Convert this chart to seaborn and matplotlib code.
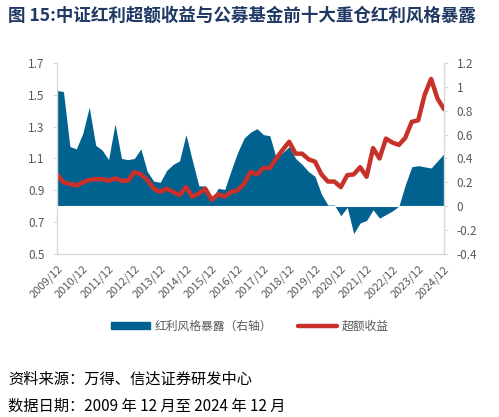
import matplotlib.pyplot as plt
import matplotlib.ticker as mticker
import matplotlib.lines as mlines
import matplotlib.patches as mpatches
import numpy as np
import pandas as pd
import seaborn as sns

# quarterly, 2009/12 .. 2024/12
quarters = [f'{y}/{m:02d}' for y in range(2009, 2025) for m in (3, 6, 9, 12)][3:]

excess_return = [
    1.00, 0.95, 0.94, 0.93, 0.95, 0.965, 0.97, 0.97, 0.96, 0.975, 0.96, 0.96, 1.015,
    1.00, 0.965, 0.91, 0.89, 0.91, 0.89, 0.87, 0.92, 0.86, 0.88, 0.91, 0.84,
    0.875, 0.86, 0.89, 0.90, 0.94, 1.015, 1.00, 1.04, 1.04, 1.10, 1.155, 1.205,
    1.13, 1.13, 1.095, 1.08, 1.00, 0.955, 0.955, 0.92, 0.995, 1.00, 1.045, 0.985,
    1.165, 1.10, 1.225, 1.20, 1.185, 1.23, 1.33, 1.34, 1.50, 1.60, 1.475, 1.41,
]

dividend_exposure = [
    0.97, 0.96, 0.50, 0.48, 0.61, 0.83, 0.51, 0.47, 0.39, 0.69, 0.40, 0.39, 0.40,
    0.48, 0.29, 0.21, 0.20, 0.30, 0.35, 0.38, 0.60, 0.38, 0.17, 0.17, 0.06,
    0.15, 0.14, 0.30, 0.45, 0.57, 0.62, 0.65, 0.60, 0.59, 0.40, 0.45, 0.50,
    0.40, 0.35, 0.29, 0.25, 0.10, 0.01, 0.01, -0.08, -0.01, -0.23, -0.14, -0.12,
    -0.03, -0.10, -0.07, -0.04, 0.00, 0.18, 0.33, 0.34, 0.33, 0.32, 0.38, 0.44,
]

left_ticks = [0.5, 0.7, 0.9, 1.1, 1.3, 1.5, 1.7]
right_ticks = [-0.4, -0.2, 0, 0.2, 0.4, 0.6, 0.8, 1.0, 1.2]

df = pd.DataFrame({'quarter': quarters, 'excess': excess_return,
                   'exposure': dividend_exposure})
df['x'] = np.arange(len(df))

sns.set_theme(style='white')
plt.rcParams['font.family'] = ['Noto Sans CJK SC', 'DejaVu Sans']
plt.rcParams['axes.unicode_minus'] = False

BLUE = '#01628f'
RED = '#c8312a'
GREY = '#595959'
SPINE = '#d9d9d9'

fig = plt.figure(figsize=(4.99, 4.17), dpi=100)
ax = fig.add_axes([0.1142, 0.391, 0.7756, 0.458])
ax2 = ax.twinx()

# area on the right axis
ax2.fill_between(df['x'], 0, df['exposure'], color=BLUE, lw=0)
ax2.axhline(0, color='white', lw=0.8)
ax2.set_ylim(-0.4, 1.2)
ax2.set_yticks(right_ticks)

# line on the left axis, drawn above the area
sns.lineplot(data=df, x='x', y='excess', ax=ax, color=RED, lw=3.2,
             solid_joinstyle='round', solid_capstyle='round')
ax.set_zorder(ax2.get_zorder() + 1)
ax.patch.set_visible(False)
ax.set_ylim(0.5, 1.7)
ax.set_yticks(left_ticks)
ax.set_xlim(0, len(df) - 1)

fmt = mticker.FuncFormatter(lambda v, p: f'{v:.1f}'.rstrip('0').rstrip('.') if abs(v) > 1e-9 else '0')
ax.yaxis.set_major_formatter(fmt)
ax2.yaxis.set_major_formatter(fmt)

xt = df['x'][df['quarter'].str.endswith('/12')]
ax.set_xticks(xt)
ax.set_xticklabels(df['quarter'][xt.index], rotation=45, ha='right',
                   rotation_mode='anchor')
ax.set_xlabel('')
ax.set_ylabel('')

for a in (ax, ax2):
    for s in a.spines.values():
        s.set_visible(False)
    a.tick_params(colors=GREY, labelsize=8.5, length=3, width=0.8)
    a.tick_params(axis='both', color=SPINE)
    a.grid(False)
ax.spines['left'].set_visible(True)
ax.spines['bottom'].set_visible(True)
ax2.spines['right'].set_visible(True)
for s in (ax.spines['left'], ax.spines['bottom'], ax2.spines['right']):
    s.set_color(SPINE)
    s.set_linewidth(1)
ax.tick_params(axis='x', labelsize=8, length=4, pad=3)
ax.tick_params(axis='y', left=True, pad=6)
ax2.tick_params(axis='y', right=True, pad=6)

fig.text(0.016, 0.962, '图 15:中证红利超额收益与公募基金前十大重仓红利风格暴露',
         fontsize=12.6, fontweight='bold', color='#1f3864', va='center')

handles = [mpatches.Patch(color=BLUE, label='红利风格暴露（右轴）'),
           mlines.Line2D([], [], color=RED, lw=3.2, label='超额收益')]
fig.legend(handles=handles, loc='center', bbox_to_anchor=(0.5, 0.218), ncol=2,
           frameon=False, fontsize=8.5, labelcolor=GREY, handlelength=3.3,
           handleheight=0.5, columnspacing=2.2, handletextpad=0.4)

fig.text(0.016, 0.09, '资料来源：万得、信达证券研发中心', fontsize=11,
         style='italic', color='black', va='center')
fig.text(0.016, 0.026, '数据日期：2009 年 12 月至 2024 年 12 月', fontsize=11,
         style='italic', color='black', va='center')

fig.savefig('out.png', dpi=100)
